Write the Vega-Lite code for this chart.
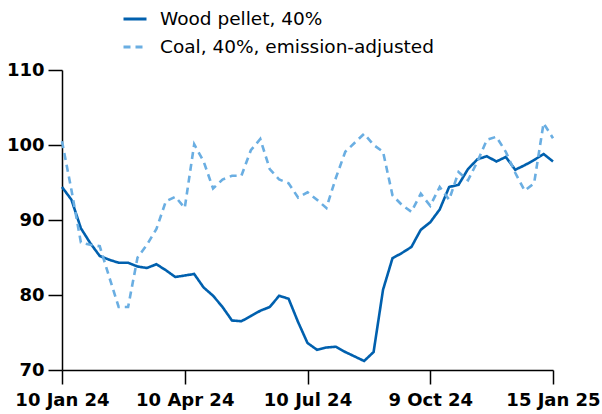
{
  "$schema": "https://vega.github.io/schema/vega-lite/v6.json",
  "width": 491,
  "height": 300,
  "autosize": {"type": "none"},
  "padding": {"left": 62, "top": 70, "right": 49, "bottom": 44},
  "background": "white",
  "config": {
    "view": {"stroke": null},
    "font": "DejaVu Sans",
    "axis": {"grid": false, "domainColor": "#000000", "tickColor": "#000000", "domainWidth": 1.5, "tickWidth": 1.5, "labelColor": "#000000", "labelFont": "DejaVu Sans", "labelFontWeight": "bold", "labelFontSize": 18}
  },
  "data": {
    "values": [
      {"date": "2024-01-10", "wood": 94.4, "coal": 100.5},
      {"date": "2024-01-17", "wood": 92.7, "coal": 94.0},
      {"date": "2024-01-24", "wood": 88.9, "coal": 87.0},
      {"date": "2024-01-31", "wood": 86.9, "coal": 86.7},
      {"date": "2024-02-07", "wood": 85.2, "coal": 86.5},
      {"date": "2024-02-14", "wood": 84.7, "coal": 82.4},
      {"date": "2024-02-21", "wood": 84.3, "coal": 78.4},
      {"date": "2024-02-28", "wood": 84.3, "coal": 78.4},
      {"date": "2024-03-06", "wood": 83.8, "coal": 85.0},
      {"date": "2024-03-13", "wood": 83.6, "coal": 86.7},
      {"date": "2024-03-20", "wood": 84.1, "coal": 88.8},
      {"date": "2024-03-27", "wood": 83.3, "coal": 92.5},
      {"date": "2024-04-03", "wood": 82.4, "coal": 93.1},
      {"date": "2024-04-10", "wood": 82.6, "coal": 91.6},
      {"date": "2024-04-17", "wood": 82.8, "coal": 100.1},
      {"date": "2024-04-24", "wood": 81.0, "coal": 97.8},
      {"date": "2024-05-01", "wood": 79.9, "coal": 94.2},
      {"date": "2024-05-08", "wood": 78.4, "coal": 95.4},
      {"date": "2024-05-15", "wood": 76.6, "coal": 95.9},
      {"date": "2024-05-22", "wood": 76.5, "coal": 95.9},
      {"date": "2024-05-29", "wood": 77.2, "coal": 99.3},
      {"date": "2024-06-05", "wood": 77.9, "coal": 100.8},
      {"date": "2024-06-12", "wood": 78.4, "coal": 96.8},
      {"date": "2024-06-19", "wood": 79.9, "coal": 95.4},
      {"date": "2024-06-26", "wood": 79.5, "coal": 94.9},
      {"date": "2024-07-03", "wood": 76.4, "coal": 93.0},
      {"date": "2024-07-10", "wood": 73.6, "coal": 93.7},
      {"date": "2024-07-17", "wood": 72.7, "coal": 92.7},
      {"date": "2024-07-24", "wood": 73.0, "coal": 91.6},
      {"date": "2024-07-31", "wood": 73.1, "coal": 95.6},
      {"date": "2024-08-07", "wood": 72.4, "coal": 99.1},
      {"date": "2024-08-14", "wood": 71.8, "coal": 100.3},
      {"date": "2024-08-21", "wood": 71.2, "coal": 101.5},
      {"date": "2024-08-28", "wood": 72.4, "coal": 100.0},
      {"date": "2024-09-04", "wood": 80.7, "coal": 99.1},
      {"date": "2024-09-11", "wood": 84.9, "coal": 93.3},
      {"date": "2024-09-18", "wood": 85.6, "coal": 92.0},
      {"date": "2024-09-25", "wood": 86.4, "coal": 91.1},
      {"date": "2024-10-02", "wood": 88.7, "coal": 93.5},
      {"date": "2024-10-09", "wood": 89.7, "coal": 91.9},
      {"date": "2024-10-16", "wood": 91.4, "coal": 94.4},
      {"date": "2024-10-23", "wood": 94.4, "coal": 92.7},
      {"date": "2024-10-30", "wood": 94.7, "coal": 96.4},
      {"date": "2024-11-06", "wood": 96.8, "coal": 95.3},
      {"date": "2024-11-13", "wood": 98.1, "coal": 97.8},
      {"date": "2024-11-20", "wood": 98.5, "coal": 100.7},
      {"date": "2024-11-27", "wood": 97.8, "coal": 101.1},
      {"date": "2024-12-04", "wood": 98.4, "coal": 99.1},
      {"date": "2024-12-11", "wood": 96.7, "coal": 96.3},
      {"date": "2024-12-18", "wood": 97.3, "coal": 93.9},
      {"date": "2024-12-25", "wood": 98.0, "coal": 94.9},
      {"date": "2025-01-08", "wood": 98.8, "coal": 102.9},
      {"date": "2025-01-15", "wood": 97.8, "coal": 100.9}
    ]
  },
  "transform": [
    {"fold": ["wood", "coal"], "as": ["key", "value"]},
    {"lookup": "key", "from": {"data": {"values": [
      {"key": "wood", "series": "Wood pellet, 40%"},
      {"key": "coal", "series": "Coal, 40%, emission-adjusted"}
    ]}, "key": "key", "fields": ["series"]}}
  ],
  "mark": {"type": "line", "strokeWidth": 2.6, "strokeJoin": "miter"},
  "encoding": {
    "x": {
      "field": "date", "type": "ordinal",
      "scale": {"type": "point", "padding": 0},
      "axis": {
        "title": null,
        "values": ["2024-01-10", "2024-04-10", "2024-07-10", "2024-10-09", "2025-01-15"],
        "labelExpr": "utcFormat(toDate(datum.value), '%-d %b %y')",
        "labelAngle": 0, "tickSize": 14, "labelPadding": 7,
        "labelOverlap": false, "labelBound": false, "labelFlush": false
      }
    },
    "y": {
      "field": "value", "type": "quantitative",
      "scale": {"domain": [70, 110], "nice": false, "zero": false},
      "axis": {"title": null, "values": [70, 80, 90, 100, 110], "tickSize": 14, "labelPadding": 4}
    },
    "color": {
      "field": "series", "type": "nominal",
      "scale": {"domain": ["Wood pellet, 40%", "Coal, 40%, emission-adjusted"], "range": ["#0060AE", "#6AAEE2"]},
      "legend": {
        "title": null, "orient": "none", "legendX": 60, "legendY": -64,
        "symbolType": "stroke", "symbolSize": 529, "symbolStrokeWidth": 3,
        "labelFontSize": 18.5, "labelFont": "DejaVu Sans", "labelColor": "#000000",
        "labelOffset": 12, "rowPadding": 5, "labelLimit": 400
      }
    },
    "strokeDash": {
      "field": "series", "type": "nominal",
      "scale": {"domain": ["Wood pellet, 40%", "Coal, 40%, emission-adjusted"], "range": [[1, 0], [7, 5]]},
      "legend": {
        "title": null, "orient": "none", "legendX": 60, "legendY": -64,
        "symbolType": "stroke", "symbolSize": 529, "symbolStrokeWidth": 3,
        "labelFontSize": 18.5, "labelFont": "DejaVu Sans", "labelColor": "#000000",
        "labelOffset": 12, "rowPadding": 5, "labelLimit": 400
      }
    }
  }
}
